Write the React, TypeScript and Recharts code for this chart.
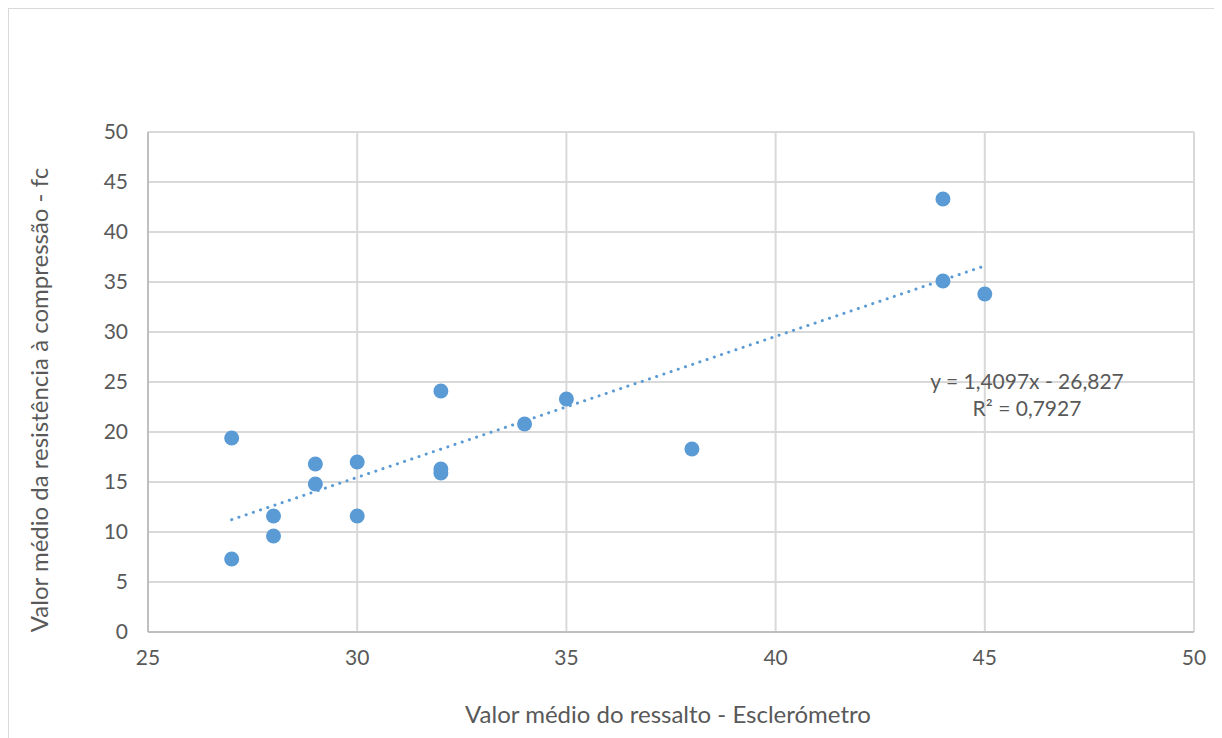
import { CartesianGrid, Scatter, ScatterChart, XAxis, YAxis } from "recharts";

const reboundX = [27, 27, 28, 28, 29, 29, 30, 30, 32, 32, 32, 34, 35, 38, 44, 44, 45];
const strengthY = [7.3, 19.4, 11.6, 9.6, 16.8, 14.8, 17.0, 11.6, 24.1, 16.3, 15.9, 20.8, 23.3, 18.3, 43.3, 35.1, 33.8];
const xTicks = [25, 30, 35, 40, 45, 50];
const yTicks = [0, 5, 10, 15, 20, 25, 30, 35, 40, 45, 50];
const slope = 1.4097;
const intercept = -26.827;
const trendX = [27, 45];

const points = reboundX.map((x, i) => ({ x, y: strengthY[i] }));
const trend = trendX.map((x) => ({ x, y: slope * x + intercept }));

const blue = "#5b9bd5";
const textColor = "#595959";
const font = "Lato, 'Open Sans', sans-serif";

export default function App() {
  return (
    <div
      style={{
        position: "relative",
        width: 1220,
        height: 740,
        border: "1px solid #d9d9d9",
        boxSizing: "border-box",
        background: "#fff",
        fontFamily: font,
        color: textColor,
      }}
    >
      <ScatterChart width={1218} height={738} margin={{ top: 123, right: 33, left: 79, bottom: 75 }}>
        <CartesianGrid stroke="#d9d9d9" strokeWidth={2} />
        <XAxis
          type="number"
          dataKey="x"
          domain={[25, 50]}
          ticks={xTicks}
          stroke="#bfbfbf"
          strokeWidth={2}
          tickLine={false}
          tick={{ fill: textColor, fontSize: 21, fontFamily: font }}
          tickMargin={12}
          height={40}
        />
        <YAxis
          type="number"
          dataKey="y"
          domain={[0, 50]}
          ticks={yTicks}
          stroke="#bfbfbf"
          strokeWidth={2}
          tickLine={false}
          tick={{ fill: textColor, fontSize: 21, fontFamily: font }}
          tickMargin={14}
          width={60}
        />
        <Scatter
          data={trend}
          line={{ stroke: blue, strokeWidth: 3, strokeDasharray: "0.1 7.5", strokeLinecap: "round" }}
          shape={() => <g />}
          isAnimationActive={false}
        />
        <Scatter
          data={points}
          fill={blue}
          isAnimationActive={false}
          shape={(p: any) => <circle cx={p.cx} cy={p.cy} r={7.5} fill={blue} />}
        />
      </ScatterChart>
      <div
        style={{
          position: "absolute",
          left: 29,
          top: 391,
          transform: "translate(-50%, -50%) rotate(-90deg)",
          whiteSpace: "nowrap",
          fontSize: 24,
        }}
      >
        Valor médio da resistência à compressão - fc
      </div>
      <div
        style={{
          position: "absolute",
          left: 659,
          top: 704,
          transform: "translate(-50%, -50%)",
          whiteSpace: "nowrap",
          fontSize: 24,
        }}
      >
        Valor médio do ressalto - Esclerómetro
      </div>
      <div
        style={{
          position: "absolute",
          left: 893,
          top: 358,
          width: 250,
          textAlign: "center",
          fontSize: 21,
          lineHeight: "27px",
        }}
      >
        <div>y = 1,4097x - 26,827</div>
        <div>R² = 0,7927</div>
      </div>
    </div>
  );
}
